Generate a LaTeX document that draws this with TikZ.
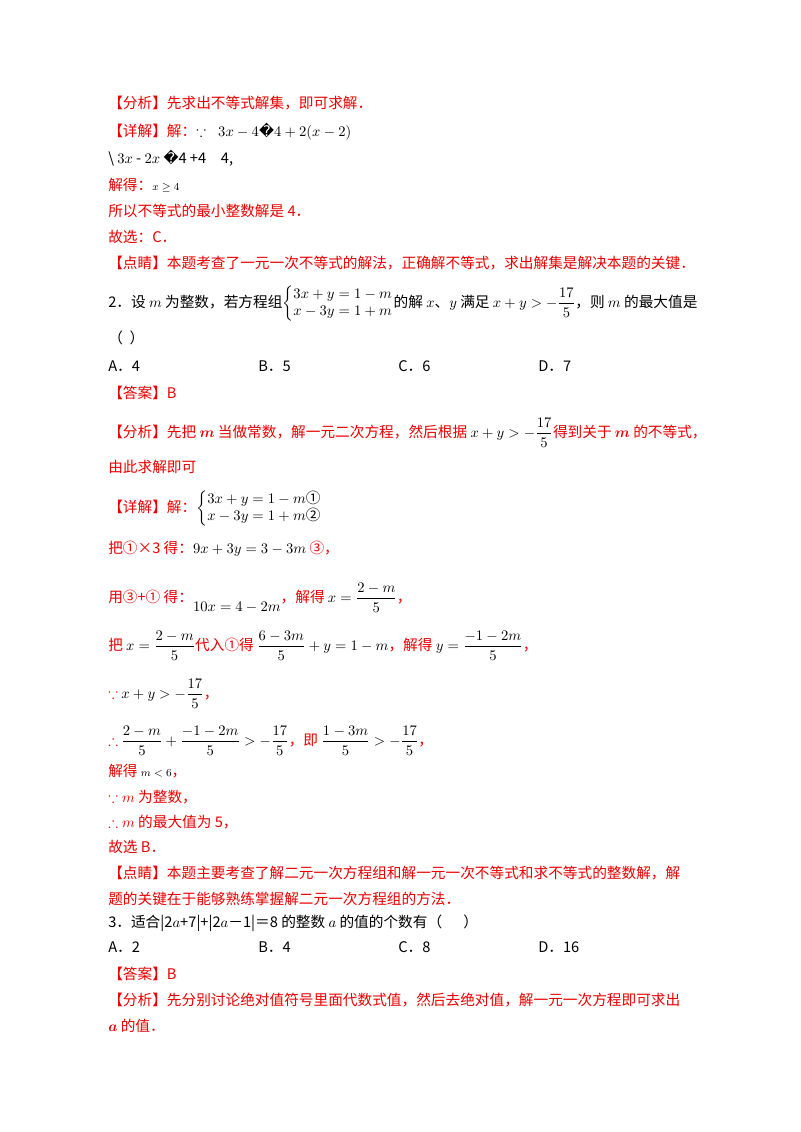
\documentclass[tikz,border=0pt]{standalone}
\usepackage{amsmath,amssymb,bm}
\usepackage{xcolor}
\usepackage{fontspec}
\newfontfamily\cjk{Noto Sans CJK SC}
\newfontfamily\djv{DejaVu Sans}
\definecolor{rd}{RGB}{235,0,0}
\newcommand\R[1]{\textcolor{rd}{#1}}
\begin{document}
\begin{tikzpicture}[x=0.75pt,y=-0.75pt,
  t/.style={anchor=base west,inner sep=0pt,font=\cjk\fontsize{11}{13}\selectfont}]
\useasboundingbox[fill=white] (0,0) rectangle (800,1132);
\node[t] (l1) at (108,108) {\R{【分析】先求出不等式解集，即可求解．}};
\node[t] (l2) at (108,136) {\R{【详解】解：}$\because\;\;3x-4${\djv\char"FFFD}$4+2(x-2)$};
\node[t] (l3) at (108,163) {\textbackslash\ $3x$ - $2x$ {\djv\char"FFFD}4 +4\quad 4,};
\node[t] (l4) at (108,190) {\R{解得：}{\footnotesize $x\ge 4$}};
\node[t] (l5) at (108,216) {\R{所以不等式的最小整数解是 4．}};
\node[t] (l6) at (108,242) {\R{故选：C．}};
\node[t] (l7) at (108,268) {\R{【点睛】本题考查了一元一次不等式的解法，正确解不等式，求出解集是解决本题的关键．}};
\node[t] (l8) at (108,307) {2．设 $m$ 为整数，若方程组$\left\{\begin{array}{@{}l@{}}3x+y=1-m\\ x-3y=1+m\end{array}\right.$的解 $x$、$y$ 满足 $x+y>-\dfrac{17}{5}$，则 $m$ 的最大值是};
\node[t] (l9) at (108,343) {（\ \ ）};
\node[t] (oA) at (108,371) {A．4};
\node[t] (oB) at (258,371) {B．5};
\node[t] (oC) at (398,371) {C．6};
\node[t] (oD) at (538,371) {D．7};
\node[t] (l10) at (108,398) {\R{【答案】B}};
\node[t] (l11) at (108,437) {\R{【分析】先把 $\bm{m}$ 当做常数，解一元二次方程，然后根据 }$x+y>-\dfrac{17}{5}$\R{ 得到关于 $\bm{m}$ 的不等式，}};
\node[t] (l12) at (108,472) {\R{由此求解即可}};
\node[t] (l13) at (108,512) {\R{【详解】解：}$\left\{\begin{array}{@{}l@{}}3x+y=1-m\text{①}\\ x-3y=1+m\text{②}\end{array}\right.$};
\node[t] (l14) at (108,553) {\R{把①×3 得：}$9x+3y=3-3m$ \R{③，}};
\node[t] (l15) at (108,602) {\R{用③+① 得：}\raisebox{-7pt}{$10x=4-2m$}\R{，解得 }$x=\dfrac{2-m}{5}$\R{，}};
\node[t] (l16) at (108,650) {\R{把 }$x=\dfrac{2-m}{5}$\R{代入①得 }$\dfrac{6-3m}{5}+y=1-m$\R{，解得 }$y=\dfrac{-1-2m}{5}$\R{，}};
\node[t] (l17) at (108,698) {\R{$\because$ }$x+y>-\dfrac{17}{5}$\R{，}};
\node[t] (l18) at (108,745) {\R{$\therefore$ }$\dfrac{2-m}{5}+\dfrac{-1-2m}{5}>-\dfrac{17}{5}$\R{，即 }$\dfrac{1-3m}{5}>-\dfrac{17}{5}$\R{，}};
\node[t] (l19) at (108,776) {\R{解得 }{\footnotesize $m<6$}\R{，}};
\node[t] (l20) at (108,802) {\R{$\because m$ 为整数，}};
\node[t] (l21) at (108,827) {\R{$\therefore m$ 的最大值为 5，}};
\node[t] (l22) at (108,852) {\R{故选 B．}};
\node[t] (l23) at (108,878) {\R{【点睛】本题主要考查了解二元一次方程组和解一元一次不等式和求不等式的整数解，解}};
\node[t] (l24) at (108,904) {\R{题的关键在于能够熟练掌握解二元一次方程组的方法．}};
\node[t] (l25) at (108,927) {3．适合|2$a$+7|+|2$a$－1|＝8 的整数 $a$ 的值的个数有（\quad\ \ ）};
\node[t] (pA) at (108,952) {A．2};
\node[t] (pB) at (258,952) {B．4};
\node[t] (pC) at (398,952) {C．8};
\node[t] (pD) at (538,952) {D．16};
\node[t] (l26) at (108,979) {\R{【答案】B}};
\node[t] (l27) at (108,1005) {\R{【分析】先分别讨论绝对值符号里面代数式值，然后去绝对值，解一元一次方程即可求出}};
\node[t] (l28) at (108,1031) {\R{$\bm{a}$ 的值．}};
\end{tikzpicture}
\end{document}
